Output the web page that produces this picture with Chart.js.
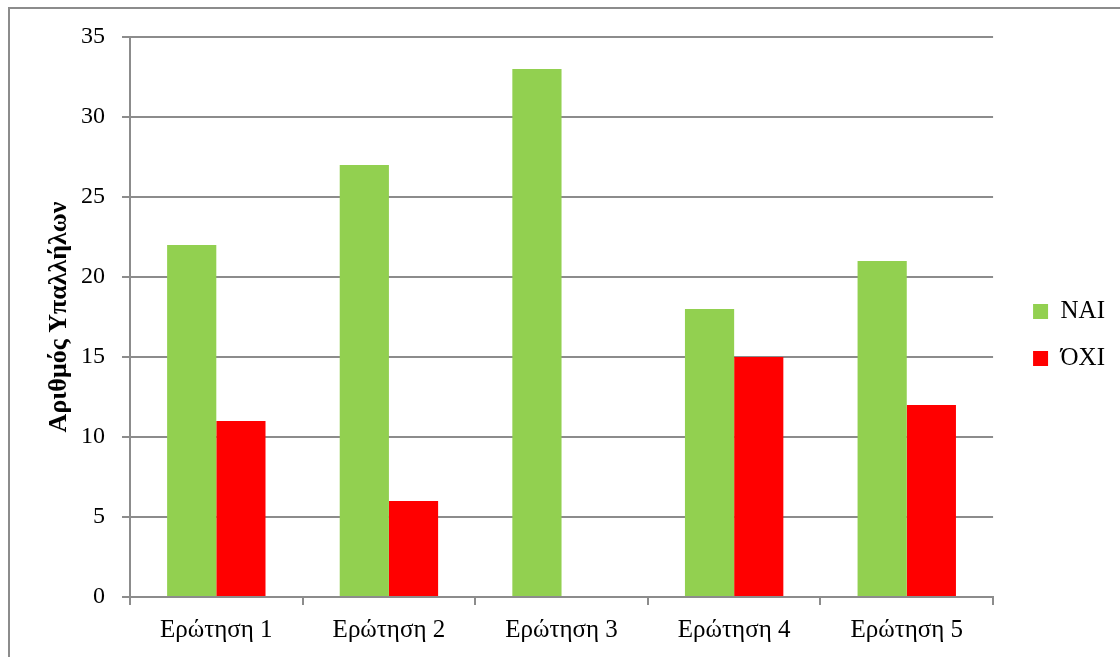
<!DOCTYPE html>
<html>
<head>
<meta charset="utf-8">
<script src="https://cdn.jsdelivr.net/npm/chart.js@4/dist/chart.umd.min.js"></script>
<style>
    html, body { margin: 0; padding: 0; background: #fff; overflow: hidden; }
    #frame { position: absolute; left: 8px; top: 7px; width: 1200px; height: 800px;
             border-left: 2px solid #8c8c8c; border-top: 2px solid #8c8c8c; }
    #chart { position: absolute; left: 0; top: 0; }
</style>
</head>
<body>
<div id="frame"></div>
<canvas id="chart" width="1120" height="657"></canvas>
<script>
    const categories = ['Ερώτηση 1', 'Ερώτηση 2', 'Ερώτηση 3', 'Ερώτηση 4', 'Ερώτηση 5'];
    const yesValues = [22, 27, 33, 18, 21];
    const noValues = [11, 6, 0, 15, 12];
    const yTicks = [0, 5, 10, 15, 20, 25, 30, 35];

    const GRID = '#8c8c8c';
    const SERIF = '"Liberation Serif", "DejaVu Serif", serif';

    // μετακίνηση του υπομνήματος όπως στο πρωτότυπο
    const legendShift = {
        id: 'legendShift',
        afterLayout(chart) {
            const lg = chart.legend;
            if (!lg) return;
            lg.left += 18; lg.right += 18;
            lg.top -= 12; lg.bottom -= 12;
        }
    };

    new Chart(document.getElementById('chart').getContext('2d'), {
        type: 'bar',
        data: {
            labels: categories,
            datasets: [
                { label: 'ΝΑΙ', data: yesValues, backgroundColor: '#92D050', borderWidth: 0 },
                { label: 'ΌΧΙ', data: noValues, backgroundColor: '#FF0000', borderWidth: 0 }
            ]
        },
        options: {
            responsive: false,
            animation: false,
            layout: { padding: { top: 37, right: 23, bottom: 0, left: 0 } },
            datasets: { bar: { categoryPercentage: 0.57, barPercentage: 1 } },
            plugins: {
                legend: {
                    position: 'right',
                    labels: {
                        boxWidth: 15, boxHeight: 15, padding: 22, color: '#000',
                        font: { family: SERIF, size: 25 }
                    }
                },
                tooltip: { enabled: false }
            },
            scales: {
                x: {
                    afterFit: s => { s.height = 60; },
                    grid: { offset: true, drawOnChartArea: false, drawTicks: true, tickLength: 8, color: GRID, lineWidth: 2 },
                    border: { color: GRID, width: 2 },
                    ticks: { color: '#000', padding: 10, font: { family: SERIF, size: 25 } }
                },
                y: {
                    min: 0, max: 35,
                    afterFit: s => { s.width = 130; },
                    afterBuildTicks: s => { s.ticks = yTicks.map(v => ({ value: v })); },
                    grid: { color: GRID, lineWidth: 2, tickLength: 8, tickColor: GRID },
                    border: { color: GRID, width: 2 },
                    ticks: { color: '#000', padding: 17, font: { family: SERIF, size: 24 } },
                    title: {
                        display: true, text: 'Αριθμός Υπαλλήλων', color: '#000',
                        padding: { top: 44, bottom: 0 },
                        font: { family: SERIF, size: 26, weight: 'bold' }
                    }
                }
            }
        },
        plugins: [legendShift]
    });
</script>
</body>
</html>
